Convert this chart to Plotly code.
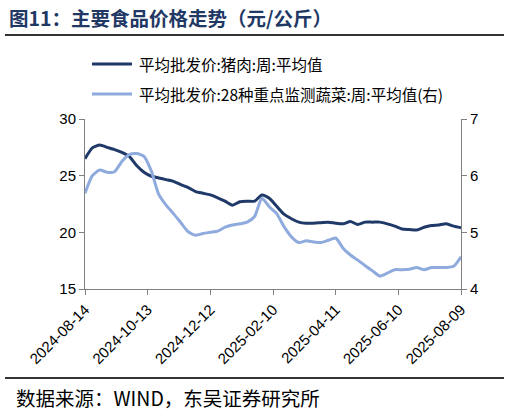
import pandas as pd
import plotly.graph_objects as go

# weekly dates, 2024-08-14 .. 2025-08-09
dates = pd.date_range("2024-08-14", "2025-08-09", periods=52)

# 平均批发价:猪肉:周:平均值 (left axis, 元/公斤)
pork = [26.5, 27.45, 27.7, 27.5, 27.3, 27.05, 26.7, 25.9, 25.3, 24.95,
        24.8, 24.65, 24.5, 24.2, 23.95, 23.6, 23.45, 23.3, 23.05, 22.75,
        22.4, 22.7, 22.75, 22.75, 23.3, 23.0, 22.3, 21.6, 21.2, 20.9,
        20.8, 20.8, 20.85, 20.9, 20.8, 20.75, 20.95, 20.7, 20.9, 20.9,
        20.9, 20.75, 20.55, 20.3, 20.25, 20.2, 20.45, 20.6, 20.65, 20.75,
        20.55, 20.4]

# 平均批发价:28种重点监测蔬菜:周:平均值 (right axis)
veg = [5.69, 6.0, 6.1, 6.06, 6.07, 6.25, 6.37, 6.39, 6.34, 6.08,
       5.67, 5.48, 5.33, 5.17, 5.01, 4.95, 4.98, 5.0, 5.02, 5.09,
       5.13, 5.15, 5.18, 5.28, 5.6, 5.45, 5.33, 5.1, 4.92, 4.82,
       4.85, 4.83, 4.82, 4.86, 4.9, 4.72, 4.6, 4.51, 4.41, 4.32,
       4.23, 4.28, 4.34, 4.34, 4.35, 4.38, 4.34, 4.38, 4.38, 4.38,
       4.4, 4.57]

tick_dates = ["2024-08-14", "2024-10-13", "2024-12-12", "2025-02-10",
              "2025-04-11", "2025-06-10", "2025-08-09"]

names = ["平均批发价:猪肉:周:平均值", "平均批发价:28种重点监测蔬菜:周:平均值(右)"]
colors = ["#1F3A68", "#8FAADC"]

cjk = "Noto Sans CJK SC"
axis_col = "#808080"

fig = go.Figure()
fig.add_trace(go.Scatter(x=dates, y=pork, mode="lines", name=names[0],
                         line=dict(color=colors[0], width=3, shape="spline", smoothing=0.6)))
fig.add_trace(go.Scatter(x=dates, y=veg, mode="lines", name=names[1], yaxis="y2",
                         line=dict(color=colors[1], width=3, shape="spline", smoothing=0.6)))

fig.update_layout(
    width=509, height=413,
    margin=dict(l=85, r=48, t=119, b=124),
    paper_bgcolor="white", plot_bgcolor="white",
    showlegend=False,
    font=dict(family="Liberation Sans, Arial", size=15, color="black"),
    xaxis=dict(type="date", range=["2024-08-14", "2025-08-09"],
               tickvals=tick_dates, ticktext=tick_dates, tickangle=-45,
               showgrid=False, zeroline=False, showline=True, linecolor=axis_col,
               ticks="outside", ticklen=5, tickcolor=axis_col),
    yaxis=dict(range=[15, 30], dtick=5, showgrid=False, zeroline=False,
               showline=True, linecolor=axis_col, ticks="outside", ticklen=5,
               tickcolor=axis_col),
    yaxis2=dict(range=[4, 7], dtick=1, overlaying="y", side="right",
                showgrid=False, zeroline=False, showline=True, linecolor=axis_col,
                ticks="outside", ticklen=5, tickcolor=axis_col),
)

# title, rules and source
fig.add_annotation(text="<b>图11：主要食品价格走势（元/公斤）</b>", xref="paper", yref="paper",
                   x=-78/376, y=1 + (119 - 18) / 170, xanchor="left", yanchor="middle",
                   showarrow=False, font=dict(family=cjk, size=19.5, color="#1F3864"))
fig.add_shape(type="line", xref="paper", yref="paper", x0=-80/376, x1=419/376,
              y0=1 + (119 - 35) / 170, y1=1 + (119 - 35) / 170,
              line=dict(color="#333333", width=2))
fig.add_shape(type="line", xref="paper", yref="paper", x0=-80/376, x1=419/376,
              y0=-(378 - 289) / 170, y1=-(378 - 289) / 170,
              line=dict(color="#333333", width=2))
fig.add_annotation(text="数据来源：WIND，东吴证券研究所", xref="paper", yref="paper",
                   x=-71/376, y=-(397 - 289) / 170, xanchor="left", yanchor="middle",
                   showarrow=False, font=dict(family=cjk, size=19.5, color="black"))

# legend drawn by hand
for i, (nm, col) in enumerate(zip(names, colors)):
    yy = 1 + (119 - (64 + 30 * i)) / 170
    fig.add_shape(type="line", xref="paper", yref="paper", x0=7/376, x1=47/376,
                  y0=yy, y1=yy, line=dict(color=col, width=3))
    fig.add_annotation(text=nm, xref="paper", yref="paper", x=52/376, y=yy,
                       xanchor="left", yanchor="middle", showarrow=False,
                       font=dict(family=cjk, size=15.5, color="black"))

fig.write_html("out.html", config={"displayModeBar": False},
               post_script="document.body.style.margin='0';")
